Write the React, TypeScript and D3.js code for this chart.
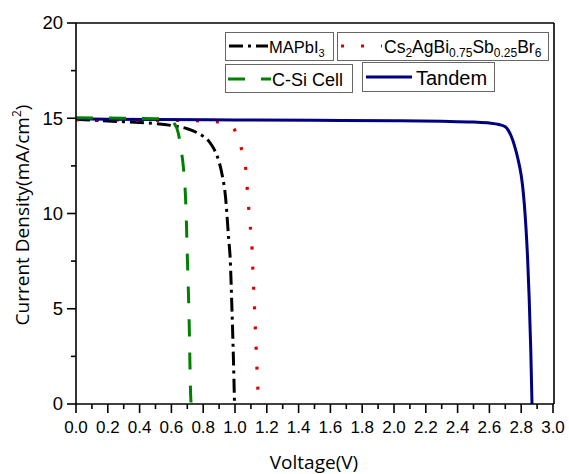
import React from "react";
import * as d3 from "d3";

const xTicks = [0, 0.2, 0.4, 0.6, 0.8, 1.0, 1.2, 1.4, 1.6, 1.8, 2.0, 2.2, 2.4, 2.6, 2.8, 3.0];
const yTicks = [0, 5, 10, 15, 20];

const mapV = [0, 0.1, 0.2, 0.3, 0.4, 0.5, 0.6, 0.7, 0.76, 0.8, 0.84, 0.87, 0.9, 0.92, 0.94, 0.96, 0.97, 0.98, 0.99, 0.997];
const mapJ = [14.95, 14.9, 14.85, 14.82, 14.78, 14.72, 14.62, 14.45, 14.25, 14.05, 13.75, 13.35, 12.7, 12.0, 10.9, 8.7, 7.6, 5.2, 2.4, 0];

const csV = [0, 0.4, 0.8, 0.9, 0.96, 1.0, 1.03, 1.05, 1.065, 1.084, 1.095, 1.105, 1.115, 1.126, 1.136, 1.148];
const csJ = [14.92, 14.9, 14.86, 14.8, 14.68, 14.35, 13.7, 13.1, 12.55, 10.5, 9.4, 8.5, 6.5, 4.4, 2.3, 0];

const siV = [0, 0.3, 0.5, 0.58, 0.62, 0.644, 0.66, 0.675, 0.692, 0.7, 0.711, 0.721, 0.724];
const siJ = [15.02, 15.0, 14.98, 14.93, 14.7, 14.2, 13.4, 12.46, 10.18, 7.8, 4.6, 0.5, 0];

const tanV = [0, 0.2, 0.5, 1.0, 1.5, 2.0, 2.3, 2.5, 2.6, 2.66, 2.7, 2.72, 2.74, 2.76, 2.78, 2.8, 2.81, 2.82, 2.83, 2.84, 2.85, 2.86, 2.868];
const tanJ = [14.97, 14.95, 14.93, 14.91, 14.89, 14.87, 14.84, 14.8, 14.75, 14.67, 14.55, 14.35, 14.0, 13.5, 12.85, 12.0, 11.35, 10.45, 9.25, 7.7, 5.6, 2.9, 0];

const W = 569, H = 474;
const L = 76, R = 554, T = 23, B = 404;

export default function App() {
  const x = d3.scaleLinear().domain([0, 3]).range([L, 553]);
  const y = d3.scaleLinear().domain([0, 20]).range([B, T]);
  const line = d3.line<[number, number]>().x(d => x(d[0])).y(d => y(d[1])).curve(d3.curveMonotoneX);
  const mk = (v: number[], j: number[]) => line(v.map((vv, i) => [vv, j[i]] as [number, number])) || "";

  const xMinor = d3.range(0, 31).map(i => i / 10);
  const yMinor = d3.range(0, 9).map(i => i * 2.5);
  const tickFont = "'Liberation Sans', Arial, sans-serif";
  const labelFont = "'Open Sans', sans-serif";

  return (
    <svg width={W} height={H} style={{ position: "absolute", left: 0, top: 0, background: "#fff" }}>
      <rect x={0} y={0} width={W} height={H} fill="#fff" />
      {/* curves */}
      <path d={mk(mapV, mapJ)} fill="none" stroke="#000" strokeWidth={3} strokeDasharray="14,5,3,5" />
      <path d={mk(csV, csJ)} fill="none" stroke="#e00000" strokeWidth={3.2} strokeDasharray="3,17" />
      <path d={mk(tanV, tanJ)} fill="none" stroke="#000080" strokeWidth={3} />
      <path d={mk(siV, siJ)} fill="none" stroke="#008000" strokeWidth={3} strokeDasharray="17,16" />

      {/* frame */}
      <line x1={L} x2={R} y1={T} y2={T} stroke="#000" strokeWidth={1.6} />
      <line x1={R} x2={R} y1={T} y2={B} stroke="#000" strokeWidth={1.6} />
      <line x1={L} x2={R} y1={B} y2={B} stroke="#000" strokeWidth={1.6} />
      <line x1={L} x2={L} y1={T} y2={B} stroke="#000" strokeWidth={1.6} />

      {/* x ticks */}
      {xMinor.map((v, i) => (
        <line key={"xm" + i} x1={x(v)} x2={x(v)} y1={B} y2={B + (i % 2 === 0 ? 9 : 5)} stroke="#000" strokeWidth={1.6} />
      ))}
      {xTicks.map((v, i) => (
        <text key={"xt" + i} x={x(v)} y={433} textAnchor="middle" fontFamily={tickFont} fontSize={17} fill="#000">
          {v.toFixed(1)}
        </text>
      ))}
      {/* y ticks */}
      {yMinor.map((v, i) => (
        <line key={"ym" + i} x1={L} x2={L - (i % 2 === 0 ? 9 : 5)} y1={y(v)} y2={y(v)} stroke="#000" strokeWidth={1.6} />
      ))}
      {yTicks.map((v, i) => (
        <text key={"yt" + i} x={63} y={y(v)} dy="0.35em" textAnchor="end" fontFamily={tickFont} fontSize={18.5} fill="#000">
          {v}
        </text>
      ))}

      {/* axis titles */}
      <text x={314} y={469} textAnchor="middle" fontFamily={labelFont} fontSize={19} fill="#000">Voltage(V)</text>
      <text transform={`translate(29,${215}) rotate(-90)`} textAnchor="middle" fontFamily={labelFont} fontSize={19} fill="#000">
        Current Density(mA/cm<tspan dy={-8} fontSize={12}>2</tspan><tspan dy={8}>)</tspan>
      </text>

      {/* legend */}
      <g fontFamily={tickFont} fill="#000">
        <rect x={225.5} y={32.5} width={108} height={28} fill="#fff" stroke="#666" strokeWidth={1} />
        <line x1={229} x2={268} y1={46} y2={46} stroke="#000" strokeWidth={3} strokeDasharray="14,5,3,5" />
        <text x={269} y={53} fontSize={16.5}>MAPbI<tspan fontSize={11} dy={4}>3</tspan></text>

        <rect x={337.5} y={32.5} width={211} height={28} fill="#fff" stroke="#666" strokeWidth={1} />
        <line x1={341} x2={382} y1={46} y2={46} stroke="#e00000" strokeWidth={3.2} strokeDasharray="3,17" />
        <text x={384} y={53} fontSize={17.5}>
          Cs<tspan fontSize={12} dy={4}>2</tspan><tspan dy={-4}>AgBi</tspan><tspan fontSize={12} dy={4}>0.75</tspan><tspan dy={-4}>Sb</tspan><tspan fontSize={12} dy={4}>0.25</tspan><tspan dy={-4}>Br</tspan><tspan fontSize={12} dy={4}>6</tspan>
        </text>

        <rect x={225.5} y={64.5} width={127} height={28} fill="#fff" stroke="#666" strokeWidth={1} />
        <line x1={228} x2={271} y1={79} y2={79} stroke="#008000" strokeWidth={3} strokeDasharray="17,16" />
        <text x={272} y={86} fontSize={18}>C-Si Cell</text>

        <rect x={362.5} y={62.5} width={132} height={29} fill="#fff" stroke="#666" strokeWidth={1} />
        <line x1={366} x2={412} y1={77} y2={77} stroke="#000080" strokeWidth={3} />
        <text x={416} y={85} fontSize={20}>Tandem</text>
      </g>
    </svg>
  );
}
